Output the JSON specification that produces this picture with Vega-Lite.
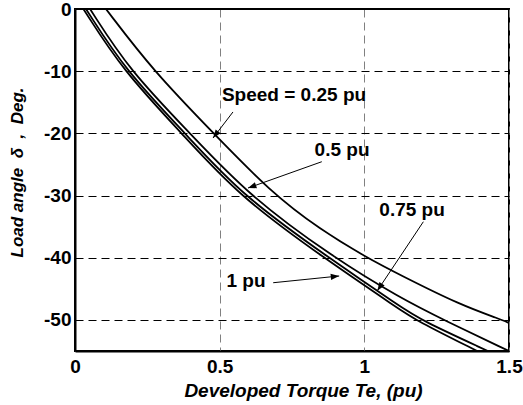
{
  "$schema": "https://vega.github.io/schema/vega-lite/v6.json",
  "width": 434,
  "height": 342,
  "padding": {"left": 75, "top": 9, "right": 14, "bottom": 54},
  "autosize": {"type": "none"},
  "background": "white",
  "config": {
    "view": {"stroke": "black", "strokeWidth": 2},
    "font": "Liberation Sans",
    "axis": {
      "domainColor": "black",
      "domainWidth": 2,
      "ticks": false,
      "labelFont": "Liberation Sans",
      "labelFontWeight": "bold",
      "labelFontSize": 19,
      "labelColor": "black",
      "labelFlush": false,
      "labelOverlap": false,
      "titleFont": "Liberation Sans",
      "titleFontWeight": "bold",
      "titleFontStyle": "italic",
      "titleColor": "black",
      "gridDash": [8, 5],
      "gridWidth": 1,
      "gridOpacity": 1
    }
  },
  "datasets": {
    "curves": [
      {"speed": "1 pu", "te": 0.029, "delta": 0},
      {"speed": "1 pu", "te": 0.167, "delta": -10},
      {"speed": "1 pu", "te": 0.369, "delta": -20},
      {"speed": "1 pu", "te": 0.564, "delta": -30},
      {"speed": "1 pu", "te": 0.859, "delta": -40},
      {"speed": "1 pu", "te": 1.125, "delta": -48.4},
      {"speed": "1 pu", "te": 1.176, "delta": -50},
      {"speed": "1 pu", "te": 1.39, "delta": -55},
      {"speed": "0.75 pu", "te": 0.038, "delta": 0},
      {"speed": "0.75 pu", "te": 0.176, "delta": -10},
      {"speed": "0.75 pu", "te": 0.381, "delta": -20},
      {"speed": "0.75 pu", "te": 0.577, "delta": -30},
      {"speed": "0.75 pu", "te": 0.877, "delta": -40},
      {"speed": "0.75 pu", "te": 1.125, "delta": -47.9},
      {"speed": "0.75 pu", "te": 1.194, "delta": -50},
      {"speed": "0.75 pu", "te": 1.427, "delta": -55},
      {"speed": "0.5 pu", "te": 0.052, "delta": 0},
      {"speed": "0.5 pu", "te": 0.19, "delta": -10},
      {"speed": "0.5 pu", "te": 0.398, "delta": -20},
      {"speed": "0.5 pu", "te": 0.6, "delta": -30},
      {"speed": "0.5 pu", "te": 0.894, "delta": -40},
      {"speed": "0.5 pu", "te": 1.125, "delta": -46.5},
      {"speed": "0.5 pu", "te": 1.274, "delta": -50},
      {"speed": "0.5 pu", "te": 1.5, "delta": -55},
      {"speed": "0.25 pu", "te": 0.107, "delta": 0},
      {"speed": "0.25 pu", "te": 0.271, "delta": -10},
      {"speed": "0.25 pu", "te": 0.479, "delta": -20},
      {"speed": "0.25 pu", "te": 0.675, "delta": -29.4},
      {"speed": "0.25 pu", "te": 0.848, "delta": -35.5},
      {"speed": "0.25 pu", "te": 1.009, "delta": -40},
      {"speed": "0.25 pu", "te": 1.125, "delta": -42.8},
      {"speed": "0.25 pu", "te": 1.332, "delta": -47.6},
      {"speed": "0.25 pu", "te": 1.471, "delta": -49.9},
      {"speed": "0.25 pu", "te": 1.5, "delta": -50.5}
    ],
    "labels": [
      {"id": "a", "text": "Speed = 0.25 pu", "te": 0.757, "delta": -13.83, "te0": 0.546, "d0": -16.56, "te1": 0.477, "d1": -20.75},
      {"id": "b", "text": "0.5 pu", "te": 0.923, "delta": -22.7, "te0": 0.853, "d0": -24.56, "te1": 0.598, "d1": -28.79},
      {"id": "c", "text": "0.75 pu", "te": 1.165, "delta": -32.3, "te0": 1.204, "d0": -34.21, "te1": 1.045, "d1": -45.3},
      {"id": "d", "text": "1 pu", "te": 0.591, "delta": -43.7, "te0": 0.685, "d0": -44.02, "te1": 0.913, "d1": -42.94}
    ]
  },
  "layer": [
    {
      "data": {"name": "curves"},
      "mark": {"type": "line", "color": "black", "strokeWidth": 1.8, "interpolate": "basis", "clip": true},
      "encoding": {
        "x": {
          "field": "te", "type": "quantitative",
          "scale": {"domain": [0, 1.5], "nice": false, "zero": false},
          "axis": {
            "values": [0, 0.5, 1, 1.5],
            "labelExpr": "toString(datum.value)",
            "title": "Developed Torque Te, (pu)",
            "titleFontSize": 19,
            "titleBaseline": "middle",
            "titleX": 228,
            "titleY": 39,
            "labelPadding": 6,
            "gridColor": "#808080"
          }
        },
        "y": {
          "field": "delta", "type": "quantitative",
          "scale": {"domain": [-55, 0], "nice": false, "zero": false},
          "axis": {
            "values": [0, -10, -20, -30, -40, -50],
            "labelExpr": "toString(datum.value)",
            "title": "Load angle\u00a0\u00a0δ\u00a0\u00a0,\u00a0\u00a0Deg.",
            "titleFontSize": 17,
            "titleBaseline": "middle",
            "titleAlign": "center",
            "titleAngle": -90,
            "titleX": -58,
            "titleY": 163,
            "labelPadding": 4,
            "gridColor": "black"
          }
        },
        "detail": {"field": "speed", "type": "nominal"}
      }
    },
    {
      "data": {"name": "labels"},
      "mark": {"type": "text", "font": "Liberation Sans", "fontWeight": "bold", "fontSize": 19, "color": "black", "align": "center", "baseline": "middle"},
      "encoding": {
        "x": {"field": "te", "type": "quantitative"},
        "y": {"field": "delta", "type": "quantitative"},
        "text": {"field": "text"}
      }
    },
    {
      "data": {"name": "labels"},
      "mark": {"type": "rule", "color": "black", "strokeWidth": 1},
      "encoding": {
        "x": {"field": "te0", "type": "quantitative"},
        "y": {"field": "d0", "type": "quantitative"},
        "x2": {"field": "te1"},
        "y2": {"field": "d1"}
      }
    },
    {
      "data": {"name": "labels"},
      "transform": [{"filter": "datum.id == 'a'"}],
      "mark": {"type": "point", "shape": "M0,0 L-0.6,1.6 L0.6,1.6 Z", "filled": true, "color": "black", "opacity": 1, "size": 110, "angle": 217.6},
      "encoding": {"x": {"field": "te1", "type": "quantitative"}, "y": {"field": "d1", "type": "quantitative"}}
    },
    {
      "data": {"name": "labels"},
      "transform": [{"filter": "datum.id == 'b'"}],
      "mark": {"type": "point", "shape": "M0,0 L-0.6,1.6 L0.6,1.6 Z", "filled": true, "color": "black", "opacity": 1, "size": 110, "angle": 250.4},
      "encoding": {"x": {"field": "te1", "type": "quantitative"}, "y": {"field": "d1", "type": "quantitative"}}
    },
    {
      "data": {"name": "labels"},
      "transform": [{"filter": "datum.id == 'c'"}],
      "mark": {"type": "point", "shape": "M0,0 L-0.6,1.6 L0.6,1.6 Z", "filled": true, "color": "black", "opacity": 1, "size": 110, "angle": 213.7},
      "encoding": {"x": {"field": "te1", "type": "quantitative"}, "y": {"field": "d1", "type": "quantitative"}}
    },
    {
      "data": {"name": "labels"},
      "transform": [{"filter": "datum.id == 'd'"}],
      "mark": {"type": "point", "shape": "M0,0 L-0.6,1.6 L0.6,1.6 Z", "filled": true, "color": "black", "opacity": 1, "size": 110, "angle": 84.2},
      "encoding": {"x": {"field": "te1", "type": "quantitative"}, "y": {"field": "d1", "type": "quantitative"}}
    }
  ]
}
